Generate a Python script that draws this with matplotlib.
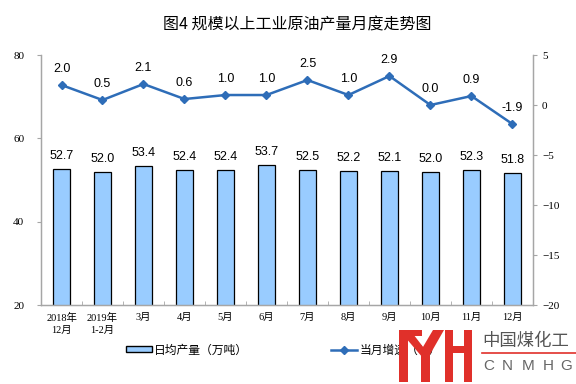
import matplotlib.pyplot as plt
import matplotlib.patches as mpatches
from matplotlib.lines import Line2D
import numpy as np

plt.rcParams['font.family'] = ['Liberation Sans', 'Noto Sans CJK SC']

months = ['2018年\n12月', '2019年\n1-2月', '3月', '4月', '5月', '6月',
          '7月', '8月', '9月', '10月', '11月', '12月']
daily_output = [52.7, 52.0, 53.4, 52.4, 52.4, 53.7, 52.5, 52.2, 52.1, 52.0, 52.3, 51.8]
growth = [2.0, 0.5, 2.1, 0.6, 1.0, 1.0, 2.5, 1.0, 2.9, 0.0, 0.9, -1.9]

bar_color = '#99CCFF'
line_color = '#2E6DB8'
axis_gray = '#A6A6A6'
serif_cjk = ['Liberation Serif', 'Noto Sans CJK SC']

fig = plt.figure(figsize=(5.76, 3.84), dpi=100)
ax = fig.add_axes([0.0712, 0.2057, 0.854, 0.651])
ax2 = ax.twinx()

x = np.arange(len(months))
ax.bar(x, daily_output, width=0.4, color=bar_color, edgecolor='black', linewidth=0.9, zorder=2)
for xi, v in zip(x, daily_output):
    ax.annotate(f'{v:.1f}', (xi, v), xytext=(0, 5), textcoords='offset points',
                ha='center', va='bottom', fontsize=9)

ax.set_ylim(20, 80)
ax.set_yticks([20, 40, 60, 80])
ax.set_xlim(-0.5, len(months) - 0.5)
ax.set_xticks(x)
ax.set_xticklabels(months, family=serif_cjk, fontsize=7.5, linespacing=1.3)
ax.tick_params(axis='x', length=0, pad=6)
ax.set_xticks(np.arange(-0.5, len(months)), minor=True)
ax.tick_params(axis='x', which='minor', length=3, direction='in', color=axis_gray)
ax.tick_params(axis='y', length=3, color=axis_gray, labelsize=8, pad=9)
for lbl in ax.get_yticklabels():
    lbl.set_family(serif_cjk)

ax2.plot(x, growth, color=line_color, linewidth=1.8, marker='D', markersize=4, zorder=3)
for xi, v in zip(x, growth):
    ax2.annotate(f'{v:.1f}', (xi, v), xytext=(0, 7), textcoords='offset points',
                 ha='center', va='bottom', fontsize=9)
ax2.set_ylim(-20, 5)
ax2.set_yticks([-20, -15, -10, -5, 0, 5])
ax2.tick_params(axis='y', length=3, color=axis_gray, labelsize=8)
for lbl in ax2.get_yticklabels():
    lbl.set_family(serif_cjk)

for a in (ax, ax2):
    a.spines['top'].set_visible(False)
    for side in ('left', 'right', 'bottom'):
        a.spines[side].set_color(axis_gray)
        a.spines[side].set_linewidth(0.9)

fig.text(0.516, 1 - 24.5 / 384, '图4 规模以上工业原油产量月度走势图', ha='center', va='center',
         fontsize=11.5, fontweight='medium', family=['Noto Sans CJK SC'])

handles = [
    mpatches.Patch(facecolor=bar_color, edgecolor='black', linewidth=1.0),
    Line2D([0], [0], color=line_color, linewidth=1.8, marker='D', markersize=4),
]
fig.legend(handles, ['日均产量（万吨）', '当月增速（%）'], loc='center',
           bbox_to_anchor=(0.492, 1 - 350 / 384), ncol=2, frameon=False,
           columnspacing=7, handlelength=2.2, handleheight=0.45, handletextpad=0.2,
           prop={'family': ['Noto Sans CJK SC'], 'size': 8.5})

# watermark logo
red = '#E0302A'
wm = fig.add_axes([0, 0, 1, 1], zorder=10)
wm.set_xlim(0, 576)
wm.set_ylim(384, 0)
wm.axis('off')
logo = [
    [(399, 330), (408, 330), (408, 382), (399, 382)],
    [(399, 330), (410, 330), (427, 352), (423, 358)],
    [(444, 330), (433, 330), (420, 352), (428, 358)],
    [(421, 350), (430, 350), (430, 382), (421, 382)],
    [(445, 330), (453, 330), (453, 382), (445, 382)],
    [(464, 330), (472, 330), (472, 382), (464, 382)],
    [(453, 346), (464, 346), (464, 353), (453, 353)],
    [(399, 330), (422, 330), (422, 336), (399, 336)],
]
for pts in logo:
    wm.add_patch(mpatches.Polygon(pts, closed=True, facecolor=red, edgecolor='none'))
wm.text(482, 341, '中国煤化工', fontsize=12.5, color='#555555', va='center', ha='left',
        family=['Noto Sans CJK SC'])
wm.plot([482, 576], [353, 353], color=red, linewidth=1.2)
for letter, lx in zip('CNMHG', [483, 502, 522, 543, 560]):
    wm.text(lx, 366, letter, fontsize=11, color='#666666', va='center', ha='left')

fig.savefig('out.png', dpi=100)
